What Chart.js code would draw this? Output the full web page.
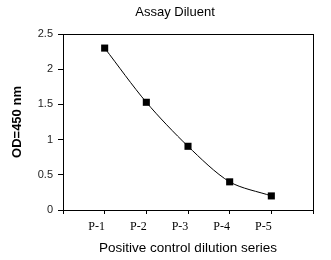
<!DOCTYPE html>
<html>
<head>
<meta charset="utf-8">
<script src="https://cdn.jsdelivr.net/npm/chart.js@4/dist/chart.umd.min.js"></script>
<style>
  html, body { margin: 0; padding: 0; background: #fff; }
  #wrap { width: 331px; height: 260px; }
</style>
</head>
<body>
<div id="wrap"><canvas id="chart" width="331" height="260"></canvas></div>
<script>
  'use strict';

  const categories = ['P-1', 'P-2', 'P-3', 'P-4', 'P-5'];
  const odValues = [2.30, 1.53, 0.905, 0.40, 0.20];
  const yTicks = [0, 0.5, 1, 1.5, 2, 2.5];
  const chartTitle = 'Assay Diluent';

  // full box round the plot area, plus the title a bit right of centre
  const boxPlugin = {
    id: 'box',
    afterDraw(chart) {
      const a = chart.chartArea;
      const ctx = chart.ctx;
      ctx.save();
      ctx.strokeStyle = '#000';
      ctx.lineWidth = 1;
      ctx.strokeRect(Math.round(a.left) + 0.5, Math.round(a.top) + 0.5,
        Math.round(a.right - a.left), Math.round(a.bottom - a.top));
      ctx.fillStyle = '#000';
      ctx.font = '13px "Liberation Sans", Arial';
      ctx.textAlign = 'center';
      ctx.textBaseline = 'middle';
      ctx.fillText(chartTitle, 175, 12);
      ctx.restore();
    }
  };

  const ctx = document.getElementById('chart').getContext('2d');
  new Chart(ctx, {
    type: 'line',
    data: {
      datasets: [{
        data: odValues.map((v, i) => ({ x: i + 1, y: v })),
        borderColor: '#000',
        borderWidth: 1,
        backgroundColor: '#000',
        pointStyle: 'rect',
        pointRadius: 5,
        pointBackgroundColor: '#000',
        pointBorderWidth: 0,
        tension: 0.3,
        fill: false
      }]
    },
    options: {
      responsive: false,
      animation: false,
      layout: { padding: { left: 0, right: 18, top: 34, bottom: 0 } },
      plugins: {
        legend: { display: false },
        tooltip: { enabled: false },
        title: { display: false }
      },
      scales: {
        x: {
          type: 'linear',
          min: 0,
          max: categories.length + 1,
          afterBuildTicks: (s) => { s.ticks = Array.from({ length: categories.length + 2 }, (_, i) => ({ value: i })); },
          afterFit: (s) => { s.height = 50; },
          grid: { drawOnChartArea: false, drawTicks: true, tickLength: 4, color: '#000' },
          border: { display: true, color: '#000' },
          ticks: {
            color: '#000',
            padding: 6,
            labelOffset: -8,
            maxRotation: 0,
            autoSkip: false,
            font: { family: 'Liberation Serif, Times New Roman', size: 12 },
            callback: (v) => categories[v - 1] || ''
          },
          title: {
            display: true,
            text: 'Positive control dilution series',
            color: '#000',
            font: { family: 'Liberation Sans, Arial', size: 13.5 },
            padding: { top: 0, bottom: 4 }
          }
        },
        y: {
          min: 0,
          max: 2.5,
          afterBuildTicks: (s) => { s.ticks = yTicks.map(v => ({ value: v })); },
          afterFit: (s) => { s.width = 63; },
          grid: { drawOnChartArea: false, drawTicks: true, tickLength: 5, color: '#000' },
          border: { display: true, color: '#000' },
          ticks: {
            color: '#222',
            padding: 5,
            font: { family: 'Liberation Sans, Arial', size: 11 },
            callback: (v) => String(v)
          },
          title: {
            display: true,
            text: 'OD=450 nm',
            color: '#000',
            font: { family: 'Liberation Sans, Arial', size: 13, weight: 'bold' },
            padding: { top: 10, bottom: 0 }
          }
        }
      }
    },
    plugins: [boxPlugin]
  });
</script>
</body>
</html>
